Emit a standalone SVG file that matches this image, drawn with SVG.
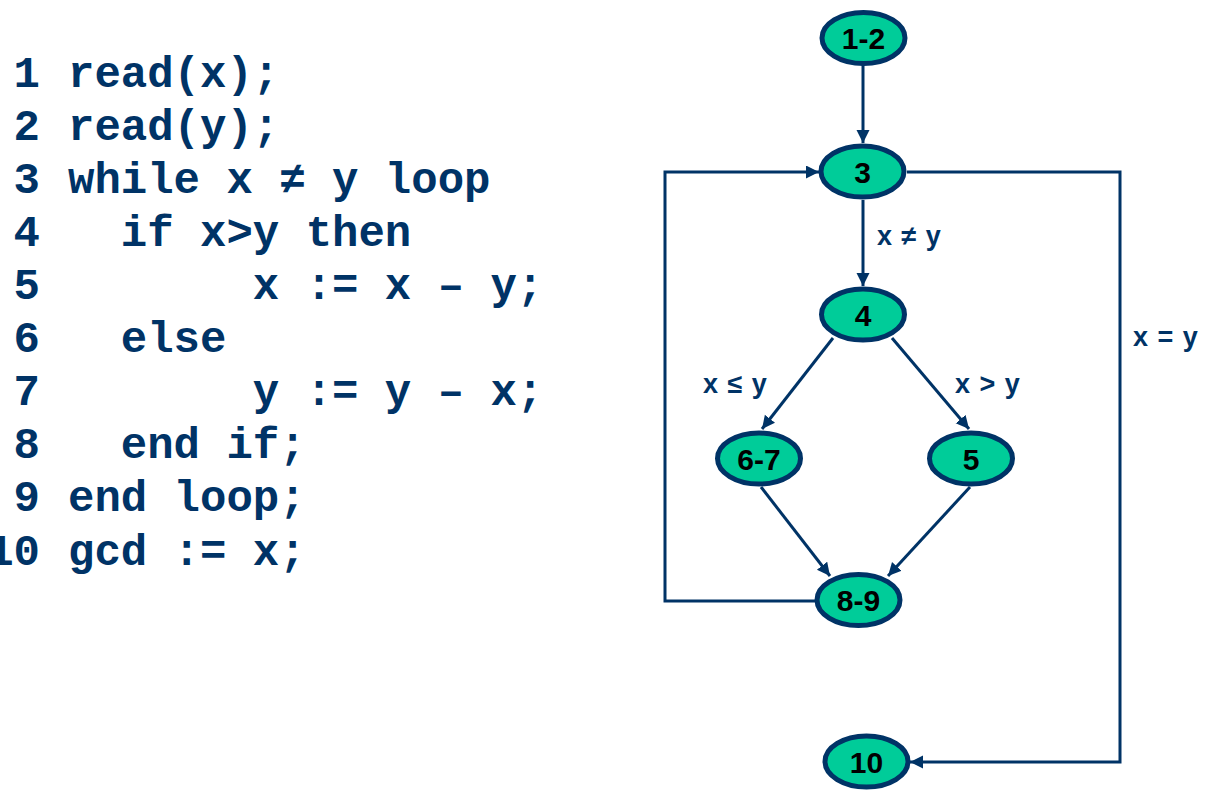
<svg xmlns="http://www.w3.org/2000/svg" width="1206" height="798" viewBox="0 0 1206 798">
<style>
.code text{font-family:"Liberation Mono","Courier New",monospace;font-weight:bold;font-size:44px;fill:#003366;white-space:pre}
.num{text-anchor:end}
.node ellipse{fill:#00CC99;stroke:#003366;stroke-width:5}
.node text{font-family:"Liberation Sans",Arial,sans-serif;font-weight:bold;font-size:30px;fill:#000;text-anchor:middle}
.edge{fill:none;stroke:#003366;stroke-width:3}
.lbl{font-family:"Liberation Sans",Arial,sans-serif;font-weight:bold;font-size:27px;fill:#003366;word-spacing:2px}
</style>
<defs>
<marker id="arr" markerUnits="userSpaceOnUse" markerWidth="14" markerHeight="14" refX="13" refY="6.5" orient="auto">
<path d="M0,0 L13,6.5 L0,13 z" fill="#003366"/>
</marker>
</defs>
<rect width="1206" height="798" fill="#fff"/>
<g id="code" class="code">
<text class="num" x="40" y="87">1</text><text xml:space="preserve" x="68" y="87">read(x);</text>
<text class="num" x="40" y="140">2</text><text xml:space="preserve" x="68" y="140">read(y);</text>
<text class="num" x="40" y="193">3</text><text xml:space="preserve" x="68" y="193">while x ≠ y loop</text>
<text class="num" x="40" y="246">4</text><text xml:space="preserve" x="68" y="246">  if x&gt;y then</text>
<text class="num" x="40" y="299">5</text><text xml:space="preserve" x="68" y="299">       x := x – y;</text>
<text class="num" x="40" y="352">6</text><text xml:space="preserve" x="68" y="352">  else</text>
<text class="num" x="40" y="405">7</text><text xml:space="preserve" x="68" y="405">       y := y – x;</text>
<text class="num" x="40" y="458">8</text><text xml:space="preserve" x="68" y="458">  end if;</text>
<text class="num" x="40" y="511">9</text><text xml:space="preserve" x="68" y="511">end loop;</text>
<text class="num" x="40" y="565">10</text><text xml:space="preserve" x="68" y="565">gcd := x;</text>
</g>
<g id="connectors">
<path class="edge" d="M863,65 L863,143" marker-end="url(#arr)"/>
<path class="edge" d="M863,200 L863,286" marker-end="url(#arr)"/>
<path class="edge" d="M833,338 L762,429" marker-end="url(#arr)"/>
<path class="edge" d="M892,338 L969,429" marker-end="url(#arr)"/>
<path class="edge" d="M761,487 L830,576" marker-end="url(#arr)"/>
<path class="edge" d="M970,487 L888,576" marker-end="url(#arr)"/>
<path class="edge" d="M815,601 L665,601 L665,172 L819,172" marker-end="url(#arr)"/>
<path class="edge" d="M907,172 L1120,172 L1120,762 L910,762" marker-end="url(#arr)"/>
<text class="lbl" x="877" y="245">x ≠ y</text>
<text class="lbl" x="1133" y="346">x = y</text>
<text class="lbl" x="703" y="393">x ≤ y</text>
<text class="lbl" x="955" y="393">x &gt; y</text>
</g>
<g id="n12" class="node"><ellipse cx="863.5" cy="38" rx="41.5" ry="25.5"/><text x="863.5" y="49">1-2</text></g>
<g id="n3" class="node"><ellipse cx="862.5" cy="171.5" rx="41.5" ry="25.5"/><text x="862.5" y="182.5">3</text></g>
<g id="n4" class="node"><ellipse cx="863" cy="314.5" rx="41.5" ry="25.5"/><text x="863" y="325.5">4</text></g>
<g id="n67" class="node"><ellipse cx="759" cy="458.5" rx="41.5" ry="25.5"/><text x="759" y="469.5">6-7</text></g>
<g id="n5" class="node"><ellipse cx="971" cy="458.5" rx="41.5" ry="25.5"/><text x="971" y="469.5">5</text></g>
<g id="n89" class="node"><ellipse cx="858.5" cy="600" rx="41.5" ry="25.5"/><text x="858.5" y="611">8-9</text></g>
<g id="n10" class="node"><ellipse cx="866.5" cy="761.5" rx="41.5" ry="25.5"/><text x="866.5" y="772.5">10</text></g>
</svg>
